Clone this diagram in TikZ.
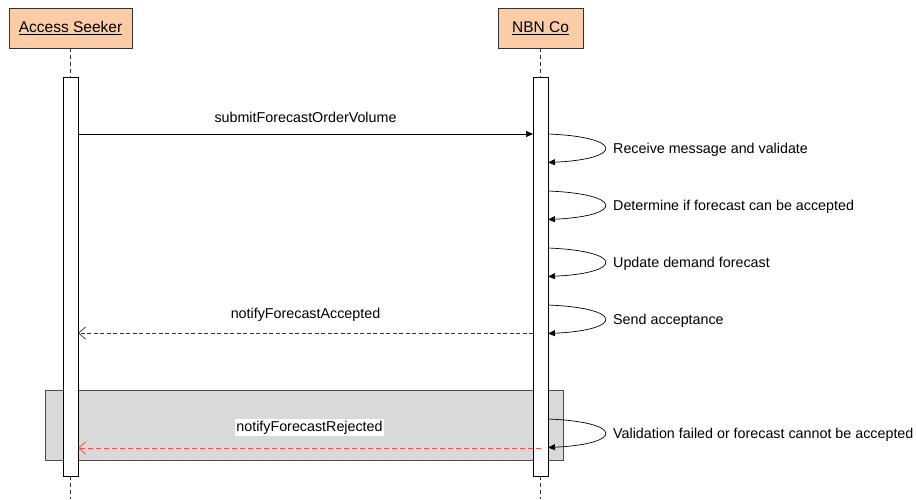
\documentclass[tikz,border=0pt]{standalone}
\usepackage{fontspec}
\setmainfont{Liberation Sans}
\usetikzlibrary{arrows.meta}
\definecolor{peach}{RGB}{251,204,166}
\definecolor{fragfill}{RGB}{217,217,217}
\definecolor{rejred}{RGB}{240,80,80}
\tikzset{
  head/.style={draw=black!80, line width=0.9pt, fill=peach, font=\fontsize{15.5}{18}\selectfont, inner sep=0pt},
  actbar/.style={draw=black, line width=0.8pt, fill=white, minimum width=15pt, inner sep=0pt},
  life/.style={draw=black!80, line width=0.8pt, dash pattern=on 4pt off 3pt},
  sync/.style={draw=black, line width=0.7pt, -{Triangle[length=7pt,width=6pt]}},
  reply/.style={draw=black!80, line width=0.7pt, dash pattern=on 4pt off 2.5pt, -{Straight Barb[length=7pt,width=12pt,line width=0.7pt]}},
  rejreply/.style={draw=rejred, line width=0.8pt, dash pattern=on 5pt off 3pt, -{Straight Barb[length=7pt,width=12pt,line width=0.8pt]}},
  msglbl/.style={font=\fontsize{14.3}{16}\selectfont, inner sep=1pt},
  selflbl/.style={font=\fontsize{14.3}{16}\selectfont, anchor=west, inner sep=0pt},
}
\begin{document}
\begin{tikzpicture}[x=1pt,y=-1pt]
\useasboundingbox (0,0) rectangle (916,499);
% combined fragment (grey box)
\node[draw=black!70, line width=1pt, fill=fragfill, minimum width=518pt, minimum height=70pt, inner sep=0pt] (frag) at (304,425) {};
% heads
\node[head, minimum width=123pt, minimum height=40pt] (as) at (70.5,28) {\underline{Access Seeker}};
\node[head, minimum width=85pt, minimum height=40pt] (nbn) at (540.5,28) {\underline{NBN Co}};
% activation bars
\node[actbar, minimum height=399pt] (asbar) at (70.5,276.5) {};
\node[actbar, minimum height=399pt] (nbnbar) at (540.5,276.5) {};
% lifeline ends
\coordinate (asend) at (70.5,499);
\coordinate (nbnend) at (540.5,499);
\draw[life] (as.south) -- (asbar.north);
\draw[life] (asbar.south) -- (asend);
\draw[life] (nbn.south) -- (nbnbar.north);
\draw[life] (nbnbar.south) -- (nbnend);
% message coordinates
\coordinate (m1a) at (78,134);
\coordinate (m1b) at (533,134);
\coordinate (m2a) at (533,333);
\coordinate (m2b) at (78,333);
\coordinate (m3a) at (541,448);
\coordinate (m3b) at (78,448);
% submitForecastOrderVolume
\draw[sync] (m1a) -- node[msglbl, above=10.5pt] (l1) {submitForecastOrderVolume} (m1b);
% self loops
\foreach \y/\t/\n in {134/Receive message and validate/s1, 191/Determine if forecast can be accepted/s2, 248/Update demand forecast/s3, 305/Send acceptance/s4, 419/Validation failed or forecast cannot be accepted/s5}{
  \coordinate (\n a) at (548,\y);
  \coordinate (\n b) at (548,\y+28.5);
  \draw[sync] (\n a) .. controls (624,\y+3) and (624,\y+25) .. (\n b);
  \node[selflbl] (\n l) at (613,\y+15.5) {\t};
}
% notifyForecastAccepted
\draw[reply] (m2a) -- node[msglbl, above=10.5pt] (l2) {notifyForecastAccepted} (m2b);
% notifyForecastRejected
\draw[rejreply] (m3a) -- node[msglbl, above=12pt, fill=white, inner sep=1.5pt] (l3) {notifyForecastRejected} (m3b);
\end{tikzpicture}
\end{document}
